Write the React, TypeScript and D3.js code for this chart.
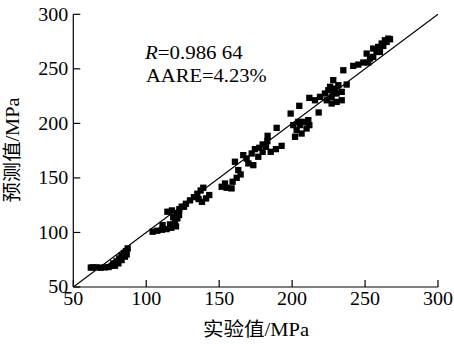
import React from "react";
import * as d3 from "d3";

const expX: number[] = [
  62, 63.3, 66.0, 68.8, 71.5, 74.2, 76.3,
  77.4, 79.7, 81.5, 83.1, 84.7, 86.1, 87.3,
  78.6, 80.9, 83.1, 85.4, 86.6,
  104.4, 107.6, 110.8, 114.0, 117.2, 120.4, 119.7, 121.3, 116.3, 111.2,
  114.5, 117.6, 120.9, 122.7, 124.3, 127.2, 130.0, 132.7, 135.0, 137.3,
  139.1, 141.0, 143.2, 138.2, 135.9, 125.9, 118.5, 122.5,
  151.7, 155.1, 158.5, 154.0, 159.2, 162.0, 164.7, 163.1, 160.8, 166.5,
  168.8, 172.3, 174.5, 170.0, 173.4, 176.8, 179.8, 182.1, 183.0, 183.2,
  185.3, 188.9, 192.8, 189.4, 179.8, 177.5,
  199.0, 204.9, 200.8, 203.1, 202.0, 205.4, 208.1, 211.1, 209.9, 206.5,
  204.2, 211.8, 218.2,
  211.8, 215.7, 219.1, 222.5, 224.8, 228.2, 226.0, 229.4, 227.1, 230.5,
  234.0, 237.4, 235.1, 227.1, 230.5, 234.0, 223.7, 228.2, 231.7,
  241.9, 245.4, 248.8, 252.2, 251.1, 253.4, 255.6, 257.9, 255.6, 259.0,
  261.4, 263.6, 265.9, 260.2, 262.5, 264.8, 267.1,
];

const predY: number[] = [
  67.8, 68.0, 68.0, 67.7, 68.0, 68.3, 69.5,
  71.7, 73.8, 76.2, 78.7, 80.8, 83.0, 85.4,
  69.5, 71.7, 74.7, 77.8, 79.9,
  100.7, 101.6, 102.5, 103.1, 104.3, 105.6, 109.2, 112.9, 107.4, 106.8,
  119.0, 120.2, 117.2, 121.4, 123.6, 126.3, 129.4, 132.4, 135.5, 138.5,
  141.0, 131.2, 134.3, 128.1, 130.6, 123.6, 114.0, 116.0,
  141.9, 141.0, 140.4, 144.9, 146.5, 150.1, 153.2, 157.2, 164.8, 170.9,
  167.8, 172.4, 176.4, 163.3, 161.7, 169.4, 173.9, 178.5, 183.7, 188.6,
  173.9, 176.4, 179.4, 195.9, 180.7, 177.6,
  209.0, 216.1, 198.4, 193.8, 187.7, 198.4, 201.4, 203.0, 195.3, 190.7,
  201.4, 198.4, 210.0,
  223.4, 221.2, 224.3, 227.4, 230.4, 239.6, 233.5, 231.9, 224.3, 227.4,
  228.9, 235.6, 248.7, 218.2, 219.7, 221.2, 221.2, 228.9, 235.0,
  252.7, 253.9, 255.8, 255.8, 264.0, 259.5, 261.0, 265.5, 268.6, 270.1,
  273.2, 276.2, 277.7, 265.5, 271.0, 274.7, 277.1,
];

const xTicks: number[] = [50, 100, 150, 200, 250, 300];
const yTicks: number[] = [50, 100, 150, 200, 250, 300];
const xTitle = "实验值/MPa";
const yTitle = "预测值/MPa";
const rLabel = "0.986 64";
const aareLabel = "AARE=4.23%";

const W = 454;
const H = 344;
const FONT = "Liberation Serif, Times New Roman, DejaVu Serif, Noto Sans CJK SC, serif";

export default function App() {
  const x = d3.scaleLinear().domain([50, 300]).range([73.3, 438]);
  const y = d3.scaleLinear().domain([50, 300]).range([287, 14.3]);
  const ms = 6.3;
  const tick = 7;
  const ts = { fontFamily: FONT } as React.CSSProperties;

  return (
    <div style={{ position: "absolute", left: 0, top: 0, background: "#fff" }}>
      <svg width={W} height={H} style={{ display: "block" }}>
        <rect width={W} height={H} fill="#fff" />
        <line x1={x(50)} y1={y(50)} x2={x(300)} y2={y(300)} stroke="#000" strokeWidth={1.1} />
        {expX.map((v, i) => (
          <rect
            key={i}
            x={x(v) - ms / 2}
            y={y(predY[i]) - ms / 2}
            width={ms}
            height={ms}
            fill="#000"
          />
        ))}
        <line x1={x(50)} y1={y(50)} x2={x(300)} y2={y(50)} stroke="#000" strokeWidth={1.2} />
        <line x1={x(50)} y1={y(50)} x2={x(50)} y2={y(300)} stroke="#000" strokeWidth={1.2} />
        {xTicks.map((t) => (
          <g key={"x" + t}>
            <line x1={x(t)} x2={x(t)} y1={y(50)} y2={y(50) - tick} stroke="#000" strokeWidth={1.2} />
            <text
              x={x(t)}
              y={y(50) + 17.5}
              textAnchor="middle"
              style={ts}
              fontSize={18}
              textLength={String(t).length * 10}
              lengthAdjust="spacingAndGlyphs"
            >
              {t}
            </text>
          </g>
        ))}
        {yTicks.map((t) => (
          <g key={"y" + t}>
            <line x1={x(50)} x2={x(50) + tick} y1={y(t)} y2={y(t)} stroke="#000" strokeWidth={1.2} />
            <text
              x={68.3}
              y={y(t) + 6.2}
              textAnchor="end"
              style={ts}
              fontSize={18}
              textLength={String(t).length * 10}
              lengthAdjust="spacingAndGlyphs"
            >
              {t}
            </text>
          </g>
        ))}
        <text
          x={256}
          y={336}
          textAnchor="middle"
          style={ts}
          fontSize={19}
          textLength={106}
          lengthAdjust="spacingAndGlyphs"
        >
          {xTitle}
        </text>
        <text
          transform="translate(19,150) rotate(-90)"
          textAnchor="middle"
          style={ts}
          fontSize={19}
          textLength={105}
          lengthAdjust="spacingAndGlyphs"
        >
          {yTitle}
        </text>
        <text
          x={145}
          y={59.3}
          style={ts}
          fontSize={18}
          textLength={97.7}
          lengthAdjust="spacingAndGlyphs"
        >
          <tspan fontStyle="italic">R</tspan>={rLabel}
        </text>
        <text
          x={146}
          y={81.7}
          style={ts}
          fontSize={18}
          textLength={120.7}
          lengthAdjust="spacingAndGlyphs"
        >
          {aareLabel}
        </text>
      </svg>
    </div>
  );
}
